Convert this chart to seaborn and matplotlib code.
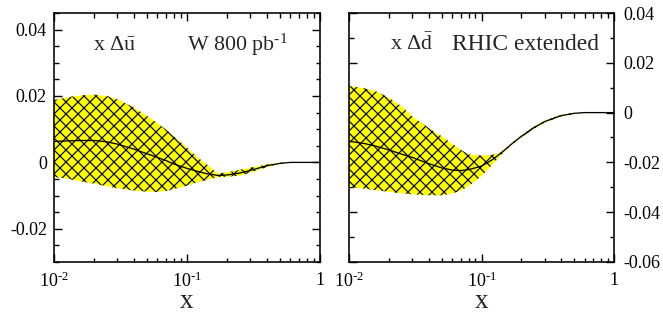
import numpy as np
import pandas as pd
import seaborn as sns
import matplotlib
matplotlib.use("Agg")
import matplotlib.pyplot as plt
from matplotlib.ticker import FixedLocator, MultipleLocator, FuncFormatter, LogLocator, NullFormatter

# ---- data ----
x_vals = [0.01, 0.013, 0.016, 0.02, 0.025, 0.03, 0.04, 0.05, 0.06, 0.07, 0.08,
          0.1, 0.12, 0.14, 0.17, 0.2, 0.25, 0.3, 0.4, 0.5, 0.6, 0.8, 1.0]

ubar_central = [0.0063, 0.0065, 0.0066, 0.0066, 0.0062, 0.0055, 0.0040, 0.0026, 0.0015, 0.0005, -0.0005,
                -0.0018, -0.0027, -0.0034, -0.0039, -0.0038, -0.0032, -0.0024, -0.0010, -0.0003, 0.0, 0.0, 0.0]
ubar_upper = [0.0188, 0.0197, 0.0202, 0.0204, 0.0200, 0.0190, 0.0165, 0.0140, 0.0118, 0.0098, 0.0078,
              0.0045, 0.0015, -0.0005, -0.0034, -0.0030, -0.0022, -0.0016, -0.0006, -0.0001, 0.0, 0.0, 0.0]
ubar_lower = [-0.0044, -0.0050, -0.0057, -0.0064, -0.0072, -0.0078, -0.0085, -0.0088, -0.0089, -0.0086, -0.0080,
              -0.0070, -0.0060, -0.0053, -0.0044, -0.0043, -0.0040, -0.0031, -0.0014, -0.0004, 0.0, 0.0, 0.0]

dbar_central = [-0.0115, -0.0124, -0.0135, -0.0150, -0.0167, -0.0180, -0.0205, -0.0222, -0.0231, -0.0233, -0.0229,
                -0.0215, -0.0190, -0.0163, -0.0125, -0.0095, -0.0060, -0.0036, -0.0012, -0.0003, 0.0, 0.0, 0.0]
dbar_upper = [0.0107, 0.0098, 0.0085, 0.0060, 0.0025, -0.0015, -0.0062, -0.0095, -0.0125, -0.0150, -0.0168,
              -0.0173, -0.0170, -0.0160, -0.0121, -0.0091, -0.0056, -0.0032, -0.0009, -0.0001, 0.0, 0.0, 0.0]
dbar_lower = [-0.0298, -0.0305, -0.0312, -0.0318, -0.0324, -0.0328, -0.0332, -0.0332, -0.0325, -0.0313, -0.0295,
              -0.0255, -0.0210, -0.0172, -0.0128, -0.0099, -0.0064, -0.0040, -0.0015, -0.0005, 0.0, 0.0, 0.0]

left_yticks = [-0.02, 0.0, 0.02, 0.04]
right_yticks = [-0.06, -0.04, -0.02, 0.0, 0.02, 0.04]
x_ticks = [0.01, 0.1, 1.0]
x_ticklabels = [r'$10^{\text{-2}}$', r'$10^{\text{-1}}$', '1']

# ---- style ----
sns.set_style("ticks")
plt.rcParams['font.family'] = ['Liberation Serif', 'DejaVu Serif']
plt.rcParams['mathtext.fontset'] = 'custom'
plt.rcParams['mathtext.rm'] = 'Liberation Serif'
plt.rcParams['mathtext.it'] = 'Liberation Serif:italic'
plt.rcParams['mathtext.bf'] = 'Liberation Serif:bold'
plt.rcParams['axes.unicode_minus'] = False
plt.rcParams['hatch.linewidth'] = 1.2
plt.rcParams['axes.linewidth'] = 1.6

DPI = 72
fig = plt.figure(figsize=(663 / DPI, 325 / DPI), dpi=DPI)
fig.patch.set_facecolor('white')

ax1 = fig.add_axes([54 / 663, 63 / 325, 266 / 663, 249 / 325])
ax2 = fig.add_axes([349 / 663, 63 / 325, 265 / 663, 249 / 325])

df_u = pd.DataFrame({'x': x_vals, 'y': ubar_central})
df_d = pd.DataFrame({'x': x_vals, 'y': dbar_central})


def yfmt(v, pos):
    if abs(v) < 1e-9:
        return '0'
    return '%.2f' % v


for ax, up, lo, df in [(ax1, ubar_upper, ubar_lower, df_u), (ax2, dbar_upper, dbar_lower, df_d)]:
    ax.fill_between(x_vals, lo, up, facecolor='#ffff00', edgecolor='black',
                    linewidth=0, hatch='xx', zorder=1)
    sns.lineplot(data=df, x='x', y='y', ax=ax, color='black', linewidth=1.3, zorder=3)
    ax.set_xscale('log')
    ax.set_xlim(0.01, 1.0)
    ax.xaxis.set_major_locator(FixedLocator(x_ticks))
    ax.set_xticklabels(x_ticklabels)
    ax.xaxis.set_minor_locator(LogLocator(base=10, subs=np.arange(2, 10)))
    ax.xaxis.set_minor_formatter(NullFormatter())
    ax.set_xlabel('x', fontsize=27, labelpad=-2)
    ax.set_ylabel('')
    ax.tick_params(which='both', direction='in', top=True, bottom=True, left=True, right=True,
                   width=1.4, labelsize=18, colors='black')
    ax.tick_params(which='major', length=8)
    ax.tick_params(which='minor', length=4.5)
    ax.tick_params(axis='x', which='major', pad=10)
    ax.yaxis.set_major_formatter(FuncFormatter(yfmt))
    for s in ax.spines.values():
        s.set_visible(True)
        s.set_color('black')

ax1.set_ylim(-0.03, 0.045)
ax1.yaxis.set_major_locator(FixedLocator(left_yticks))
ax1.yaxis.set_minor_locator(MultipleLocator(0.005))
ax1.tick_params(axis='y', labelleft=True, labelright=False, pad=7)

ax2.set_ylim(-0.06, 0.04)
ax2.yaxis.set_major_locator(FixedLocator(right_yticks))
ax2.yaxis.set_minor_locator(MultipleLocator(0.01))
ax2.tick_params(axis='y', labelleft=False, labelright=True, pad=9)

ax1.text(0.147, 0.87, r'x $\Delta\bar{\mathrm{u}}$', transform=ax1.transAxes,
         fontsize=22, va='center', ha='left')
ax1.text(0.50, 0.87, r'W 800 pb$^{\text{-1}}$', transform=ax1.transAxes,
         fontsize=22, va='center', ha='left')
ax2.text(0.155, 0.875, r'x $\Delta\bar{\mathrm{d}}$', transform=ax2.transAxes,
         fontsize=22, va='center', ha='left')
ax2.text(0.39, 0.875, 'RHIC extended', transform=ax2.transAxes,
         fontsize=23.5, va='center', ha='left')

fig.savefig('out.png', dpi=DPI, facecolor='white')
